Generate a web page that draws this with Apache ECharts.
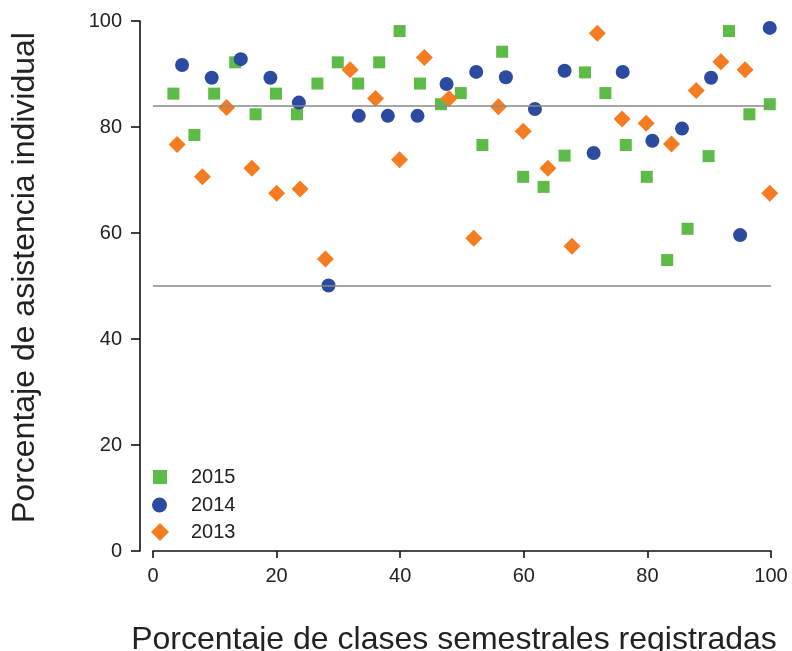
<!DOCTYPE html>
<html>
<head>
<meta charset="utf-8">
<script src="https://cdn.jsdelivr.net/npm/echarts@6/dist/echarts.min.js"></script>
<style>html,body{margin:0;padding:0;background:#fff}#c{width:792px;height:651px}</style>
</head>
<body>
<div id="c"></div>
<script>
const xTicks = [0, 20, 40, 60, 80, 100];
const yTicks = [0, 20, 40, 60, 80, 100];
const refLines = [84, 50];

const x2015 = [3.3, 6.7, 9.9, 13.3, 16.6, 19.9, 23.3, 26.6, 29.9, 33.2, 36.6, 39.9, 43.2, 46.6, 49.8, 53.3, 56.5, 59.9, 63.2, 66.6, 69.9, 73.2, 76.5, 79.9, 83.2, 86.5, 89.9, 93.2, 96.5, 99.8];
const y2015 = [86.3, 78.5, 86.3, 92.2, 82.4, 86.3, 82.4, 88.2, 92.2, 88.2, 92.2, 98.1, 88.2, 84.3, 86.4, 76.6, 94.2, 70.6, 68.7, 74.6, 90.3, 86.4, 76.6, 70.6, 54.9, 60.8, 74.5, 98.1, 82.4, 84.3];

const x2014 = [4.7, 9.5, 14.2, 19.0, 23.6, 28.4, 33.3, 38.0, 42.8, 47.5, 52.3, 57.1, 61.8, 66.6, 71.3, 76.0, 80.8, 85.6, 90.3, 95.0, 99.8];
const y2014 = [91.7, 89.3, 92.8, 89.3, 84.6, 50.1, 82.1, 82.1, 82.1, 88.1, 90.4, 89.4, 83.4, 90.6, 75.1, 90.4, 77.4, 79.7, 89.3, 59.6, 98.7];

const x2013 = [3.9, 8.0, 11.9, 16.0, 20.0, 23.8, 27.9, 31.9, 36.0, 39.9, 43.9, 47.9, 51.9, 55.9, 59.9, 63.9, 67.8, 71.9, 75.9, 79.8, 83.9, 87.9, 91.9, 95.8, 99.8];
const y2013 = [76.7, 70.6, 83.7, 72.2, 67.5, 68.3, 55.1, 90.8, 85.4, 73.8, 93.1, 85.4, 59.0, 83.8, 79.2, 72.2, 57.5, 97.7, 81.5, 80.7, 76.8, 86.9, 92.3, 90.8, 67.5];

const seriesNames = ['2015', '2014', '2013'];
const colors = ['#5DBB47', '#2B4BA0', '#F57C20'];

function pairs(xs, ys) { return xs.map((x, i) => [x, ys[i]]); }

const FONT = 'Liberation Sans, Arial, sans-serif';

function legendFor(name, left, top, size, pad) {
  return {
    orient: 'vertical', left: left, top: top, padding: 0,
    itemWidth: size, itemHeight: size, data: [name], selectedMode: false,
    textStyle: {fontSize: 20, color: '#222', fontFamily: FONT, padding: [0, 0, 0, pad]}
  };
}

const chart = echarts.init(document.getElementById('c'), null, {renderer: 'canvas'});
chart.setOption({
  animation: false,
  backgroundColor: '#fff',
  textStyle: {fontFamily: FONT},
  grid: {left: 153, right: 21, top: 21, bottom: 100, containLabel: false, outerBoundsMode: 'none'},
  xAxis: {
    type: 'value', min: 0, max: 100, interval: 20,
    name: 'Porcentaje de clases semestrales registradas',
    nameLocation: 'middle', nameGap: 73,
    nameTextStyle: {fontSize: 32, color: '#222', fontFamily: FONT, padding: [0, 16, 0, 0]},
    axisLine: {show: true, onZero: false, lineStyle: {color: '#111', width: 1.6}},
    axisTick: {show: true, length: 7, lineStyle: {color: '#111', width: 1.6}},
    axisLabel: {fontSize: 20, color: '#222', margin: 15, fontFamily: FONT,
      formatter: v => xTicks.includes(v) ? String(v) : ''},
    splitLine: {show: false}
  },
  yAxis: {
    type: 'value', min: 0, max: 100, interval: 20, offset: 13,
    name: 'Porcentaje de asistencia individual',
    nameLocation: 'middle', nameGap: 99,
    nameTextStyle: {fontSize: 32, color: '#222', fontFamily: FONT, padding: [0, 0, 0, 17]},
    axisLine: {show: true, onZero: false, lineStyle: {color: '#111', width: 1.6}},
    axisTick: {show: true, length: 9, lineStyle: {color: '#111', width: 1.6}},
    axisLabel: {fontSize: 20, color: '#222', margin: 18, fontFamily: FONT,
      formatter: v => yTicks.includes(v) ? String(v) : ''},
    splitLine: {show: false}
  },
  legend: [
    legendFor(seriesNames[0], 153, 467, 14, 19),
    legendFor(seriesNames[1], 152, 495, 15, 19),
    legendFor(seriesNames[2], 151, 522, 18, 17)
  ],
  series: [
    {
      type: 'scatter', name: 'ref', data: [], z: 1, silent: true,
      markLine: {
        silent: true, symbol: ['none', 'none'], label: {show: false},
        lineStyle: {color: '#8a8a8a', width: 1.5, type: 'solid'},
        data: refLines.map(v => ({yAxis: v}))
      }
    },
    {type: 'scatter', name: seriesNames[0], data: pairs(x2015, y2015), symbol: 'rect', symbolSize: 12, z: 2,
      itemStyle: {color: colors[0], opacity: 1}},
    {type: 'scatter', name: seriesNames[1], data: pairs(x2014, y2014), symbol: 'circle', symbolSize: 14, z: 3,
      itemStyle: {color: colors[1], opacity: 1}},
    {type: 'scatter', name: seriesNames[2], data: pairs(x2013, y2013), symbol: 'diamond', symbolSize: 17, z: 4,
      itemStyle: {color: colors[2], opacity: 1}}
  ]
});
</script>
</body>
</html>
